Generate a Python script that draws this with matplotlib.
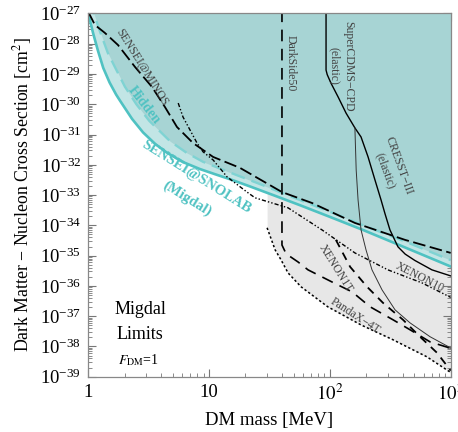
import numpy as np
import matplotlib
matplotlib.use('Agg')
import matplotlib.pyplot as plt
from matplotlib.ticker import LogLocator, FixedLocator, NullFormatter, LogFormatterMathtext

plt.rcParams['font.family'] = ['Liberation Serif', 'DejaVu Serif']
plt.rcParams['mathtext.fontset'] = 'stix'

# ---------------- data (mass in MeV, log10 cross section in cm^2) ----------------
snolab_mass = [1.0, 1.04, 1.094, 1.2, 1.33, 1.5, 1.7, 1.83, 2.3, 2.84, 3.6, 4.48, 6, 8.4, 11, 15, 22, 35, 57, 100, 190, 380, 1000]
snolab_logxs = [-27.0, -27.28, -27.64, -28.22, -28.8, -29.28, -29.68, -29.88, -30.48, -30.93, -31.32, -31.6, -31.9,
                -32.14, -32.3, -32.48, -32.72, -33.02, -33.34, -33.72, -34.16, -34.66, -35.36]

hidden_mass = [1.0, 1.1, 1.25, 1.45, 1.66, 2.01, 2.5, 3.2, 4.75, 6.5, 8.9, 15, 25, 50, 100, 184, 400, 1000]
hidden_logxs = [-26.6, -26.95, -27.6, -28.3, -28.77, -29.42, -30.0, -30.55, -31.22, -31.6, -31.9, -32.26, -32.6,
                -33.08, -33.55, -33.98, -34.5, -35.15]

minos_mass = [1.0, 1.135, 1.37, 1.76, 2.44, 3.37, 4.31, 5.42, 7.36, 10.8, 18.0, 40.1, 71, 161, 419, 1000]
minos_logxs = [-26.95, -27.38, -27.64, -28.04, -28.77, -29.43, -30.09, -30.75, -31.28, -31.74, -32.10, -32.90,
               -33.26, -33.92, -34.48, -34.91]

xenon10_mass = [5.55, 6.08, 6.95, 7.94, 8.91, 10.8, 14.1, 20.6, 24, 45, 86, 161, 302, 578, 1000]
xenon10_logxs = [-29.96, -30.42, -30.85, -31.28, -31.57, -31.84, -32.40, -32.90, -33.09, -33.42, -34.15, -34.91,
                 -35.47, -35.90, -36.38]

darkside_mass = [40.1, 40.1, 43.4, 54.5, 65.9, 104, 153, 215, 333, 461, 675, 1000]
darkside_logxs = [-26.9, -34.65, -34.94, -35.21, -35.47, -35.87, -36.20, -36.69, -37.12, -37.45, -37.85, -38.06]

xenon1t_mass = [112, 147, 203, 275, 403, 557, 770, 1000]
xenon1t_logxs = [-34.48, -35.37, -36.03, -36.56, -37.12, -37.68, -38.21, -38.80]

pandax_mass = [30.2, 35.2, 39.4, 45, 57.7, 96, 181, 333, 633, 1000]
pandax_logxs = [-34.08, -34.81, -35.14, -35.57, -36.03, -36.69, -37.29, -37.78, -38.34, -38.86]

cdms_mass = [92.9, 92.9, 95, 102, 117, 136, 161, 181, 207, 236, 265, 286, 314, 366, 420, 505, 699, 1000]
cdms_logxs = [-26.9, -28.87, -29.02, -29.30, -29.76, -30.29, -30.78, -31.08, -31.74, -32.50, -33.16, -33.62,
              -34.15, -34.71, -34.95, -35.16, -35.47, -35.67]

cresst_mass = [161, 165, 171, 181, 199, 223, 270, 346, 460, 675, 1000]
cresst_logxs = [-30.78, -32.17, -33.16, -34.15, -34.81, -35.47, -36.13, -36.79, -37.22, -37.68, -38.05]

x_ticks = [1, 10, 100, 1000]
x_ticklabels = ['1', '10', '$10^2$', '$10^3$']

def xs(v):
    return 10.0 ** np.asarray(v)

# ---------------- colours ----------------
teal = '#4fc2c2'
teal_dash = '#7fd3d3'
fill_dark = '#a7d4d4'
fill_light = '#c2e5e5'
gray_fill = '#e7e7e7'
label_gray = '#444444'

fig = plt.figure(figsize=(4.58, 4.32), dpi=100)
ax = fig.add_axes([0.1928, 0.128, 0.7913, 0.8408])

top = 1e-26
ax.fill_between(pandax_mass, xs(pandax_logxs), top, color=gray_fill, lw=0, zorder=1)
ax.fill_between(snolab_mass, xs(snolab_logxs), top, color=fill_light, lw=0, zorder=2)
ax.fill_between(hidden_mass, xs(hidden_logxs), top, color=fill_dark, lw=0, zorder=2)

ax.plot(snolab_mass, xs(snolab_logxs), color=teal, lw=1.9, zorder=5)
ax.plot(hidden_mass, xs(hidden_logxs), color=teal_dash, lw=1.7, dashes=(6, 3), zorder=5)

ax.plot(minos_mass, xs(minos_logxs), color='black', lw=1.3, dashes=(7, 2.5), zorder=6)
ax.plot(xenon10_mass, xs(xenon10_logxs), color='black', lw=1.0, dashes=(3, 1.5, 1, 1.5, 1, 1.5), zorder=6)
ax.plot(darkside_mass, xs(darkside_logxs), color='black', lw=1.2, dashes=(7, 4.5), zorder=6)
ax.plot(xenon1t_mass, xs(xenon1t_logxs), color='black', lw=1.3, dashes=(4.5, 3.5), zorder=6)
ax.plot(pandax_mass, xs(pandax_logxs), color='black', lw=1.1, dashes=(1.5, 1.5), zorder=6)
ax.plot(cdms_mass, xs(cdms_logxs), color='black', lw=1.0, zorder=6)
ax.plot(cresst_mass, xs(cresst_logxs), color='#333333', lw=0.7, zorder=6)

ax.set_xscale('log')
ax.set_yscale('log')
ax.set_xlim(1, 1000)
ax.set_ylim(1e-39, 1e-27)

ax.xaxis.set_major_locator(FixedLocator(x_ticks))
ax.set_xticklabels(x_ticklabels)
ax.xaxis.set_minor_locator(LogLocator(base=10, subs=np.arange(2, 10), numticks=100))
ax.xaxis.set_minor_formatter(NullFormatter())
ax.yaxis.set_major_locator(LogLocator(base=10, numticks=100))
ax.yaxis.set_major_formatter(LogFormatterMathtext())
ax.yaxis.set_minor_locator(LogLocator(base=10, subs=np.arange(2, 10), numticks=100))
ax.yaxis.set_minor_formatter(NullFormatter())

ax.tick_params(which='both', direction='in', top=True, right=True, color='#777777', labelsize=13.5, zorder=10)
ax.tick_params(which='major', length=6, width=0.8, pad=5)
ax.tick_params(which='minor', length=3, width=0.6)
for s in ax.spines.values():
    s.set_color('#888888')
    s.set_linewidth(0.9)
    s.set_zorder(10)

ax.set_xlabel('DM mass [MeV]', fontsize=13.5, labelpad=6)
ax.set_ylabel('Dark Matter \u2212 Nucleon Cross Section [cm$^2$]', fontsize=12.8, labelpad=4)

def lab(x, y, s, rot, size=8.5, color=label_gray, weight='normal', **kw):
    ax.text(x, y, s, rotation=rot, fontsize=size, color=color, weight=weight,
            ha='center', va='center', rotation_mode='anchor', zorder=8,
            transform=ax.transAxes, multialignment='center', **kw)

def px(xp, yp):
    return ((xp - 88.3) / 362.4, (376.7 - yp) / 363.2)

lab(*px(142, 67), 'SENSEI@MINOS', -58)
lab(*px(144, 105), 'Hidden', -52, size=10, color=teal, weight='bold')
lab(*px(196, 177), 'SENSEI@SNOLAB', -32, size=10.5, color=teal, weight='bold')
lab(*px(187, 199), '(Migdal)', -32, size=10.5, color=teal, weight='bold')
lab(*px(291, 63), 'DarkSide50', -90)
lab(*px(341, 66), 'SuperCDMS\u2212CPD\n(elastic)', -90)
lab(*px(392, 168), 'CRESST\u2212III\n(elastic)', -70)
lab(*px(336, 268), 'XENON1T', -58)
lab(*px(420, 277), 'XENON10', -27)
lab(*px(355, 316), 'PandaX\u22124T', -33)

lab(*px(140, 310), 'Migdal', 0, size=13, color='black')
lab(*px(140, 334), 'Limits', 0, size=13, color='black')
lab(*px(138, 360), '$F_{\\rm DM}$=1', 0, size=10, color='black')

fig.savefig('out.png', dpi=100)
